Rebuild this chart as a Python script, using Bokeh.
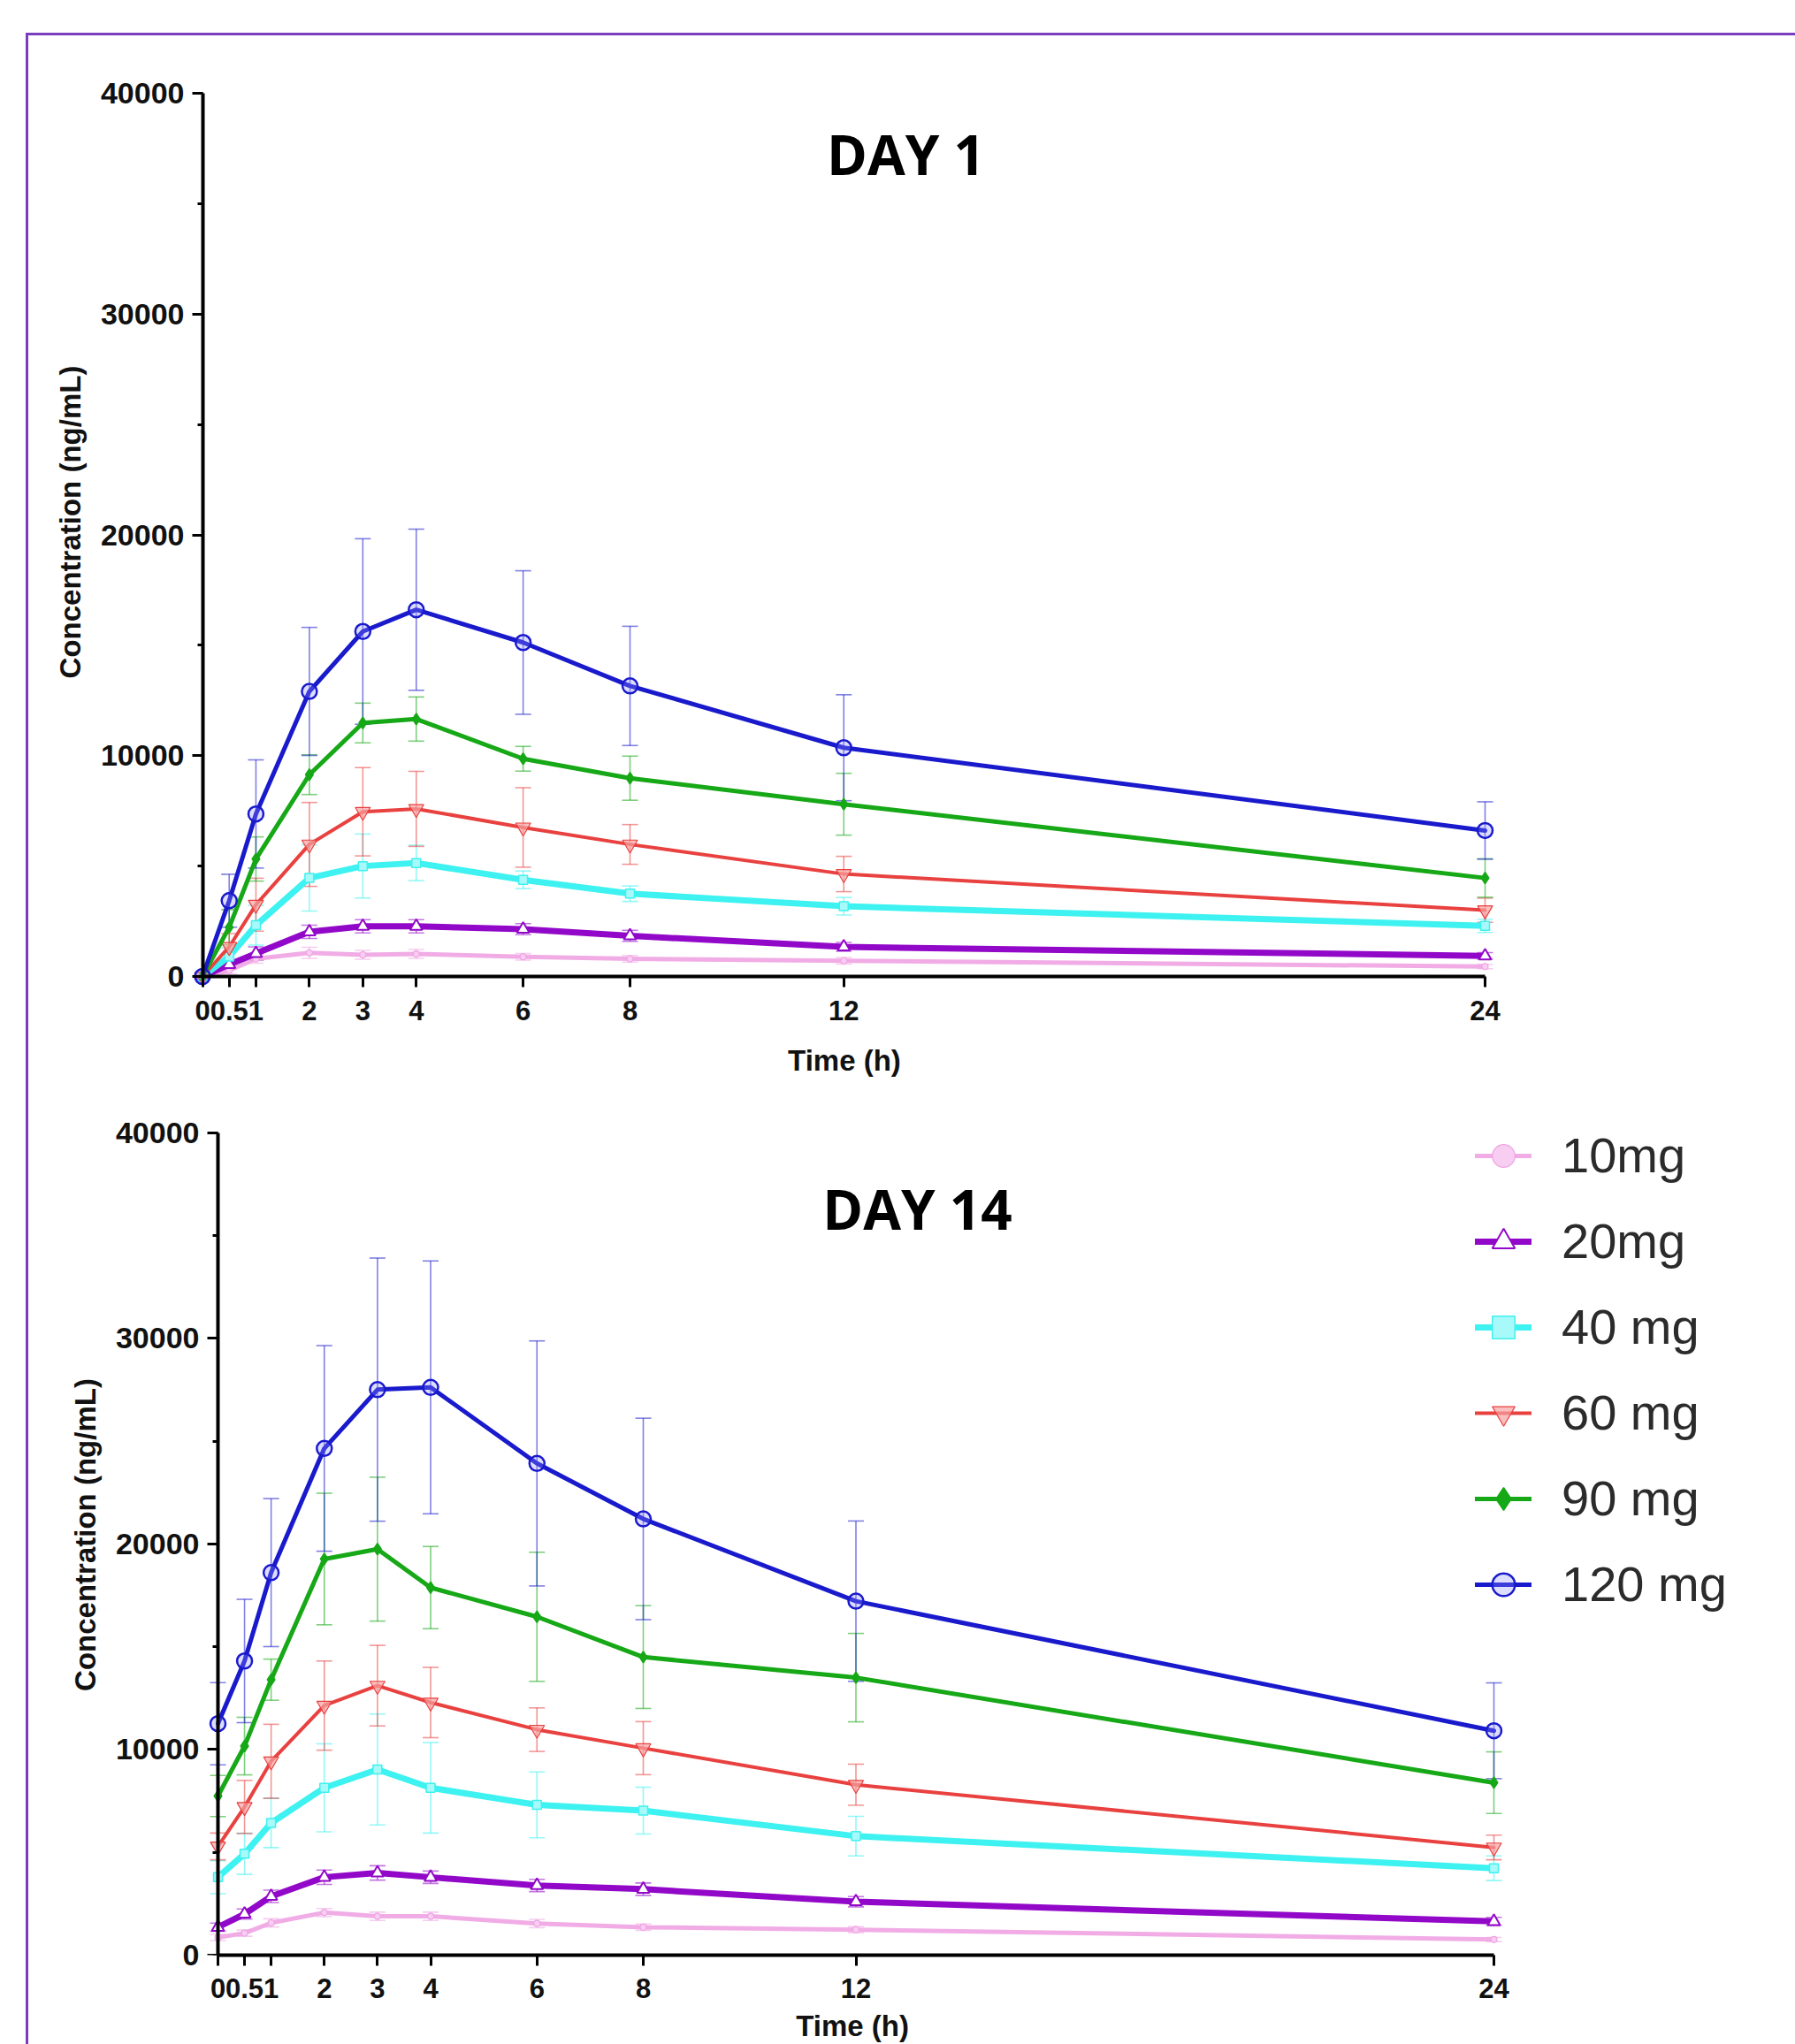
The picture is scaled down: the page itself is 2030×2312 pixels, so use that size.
from bokeh.plotting import figure
from bokeh.models import (ColumnDataSource, Whisker, TeeHead, Legend, LegendItem,
                          FixedTicker, SingleIntervalTicker, Label, LinearAxis)
from bokeh.layouts import column
from bokeh.embed import file_html
from bokeh.resources import INLINE

# ---------------- data ----------------
time_h = [0, 0.5, 1, 2, 3, 4, 6, 8, 12, 24]
x_tick_labels = ["0", "0.5", "1", "2", "3", "4", "6", "8", "12", "24"]
dose_labels = ["10mg", "20mg", "40 mg", "60 mg", "90 mg", "120 mg"]

# Day 1 mean concentration (ng/mL)
d1_10 = [0, 270, 800, 1070, 980, 1020, 890, 800, 710, 450]
d1_20 = [0, 540, 1040, 2020, 2270, 2270, 2140, 1840, 1340, 930]
d1_40 = [0, 900, 2320, 4460, 5000, 5140, 4375, 3750, 3180, 2290]
d1_60 = [0, 1340, 3250, 5980, 7460, 7590, 6750, 5980, 4640, 3000]
d1_90 = [0, 2230, 5320, 9140, 11480, 11660, 9860, 8980, 7800, 4460]
d1_120 = [0, 3430, 7360, 12910, 15625, 16610, 15125, 13160, 10360, 6610]
# Day 1 SD
d1_10_sd = [0, 150, 200, 250, 200, 200, 150, 150, 150, 100]
d1_20_sd = [0, 200, 300, 300, 300, 300, 250, 250, 200, 150]
d1_40_sd = [0, 400, 900, 1500, 1450, 800, 400, 350, 400, 300]
d1_60_sd = [0, 600, 1200, 1900, 2000, 1700, 1800, 900, 800, 550]
d1_90_sd = [0, 800, 1000, 900, 900, 1000, 560, 1000, 1400, 870]
d1_120_sd = [0, 1200, 2450, 2900, 4200, 3650, 3250, 2700, 2400, 1300]

# Day 14 mean concentration (ng/mL)
d14_10 = [860, 1070, 1570, 2070, 1890, 1890, 1540, 1360, 1240, 760]
d14_20 = [1360, 2000, 2860, 3790, 4000, 3790, 3390, 3210, 2600, 1640]
d14_40 = [3790, 4930, 6430, 8140, 9030, 8140, 7310, 7030, 5790, 4230]
d14_60 = [5290, 7210, 9430, 12140, 13110, 12290, 10970, 10070, 8290, 5240]
d14_90 = [7740, 10170, 13400, 19270, 19750, 17880, 16460, 14500, 13500, 8390]
d14_120 = [11260, 14310, 18610, 24650, 27510, 27620, 23920, 21220, 17220, 10915]
# Day 14 SD
d14_10_sd = [150, 150, 200, 200, 200, 200, 200, 150, 150, 100]
d14_20_sd = [200, 250, 300, 350, 350, 300, 300, 300, 250, 200]
d14_40_sd = [800, 1000, 1200, 2140, 2700, 2200, 1600, 1140, 960, 600]
d14_60_sd = [650, 1290, 1800, 2170, 1960, 1710, 1060, 1290, 1000, 600]
d14_90_sd = [1000, 1400, 1000, 3200, 3500, 2000, 3140, 2500, 2150, 1500]
d14_120_sd = [2000, 3000, 3600, 5000, 6400, 6150, 5960, 4900, 3900, 2330]

# ---------------- styles ----------------
styles = [
    dict(color="#EFA3E3", width=5, marker="circle", size=7, fill="#F7CDF1", falpha=1.0, mlw=1.2, lalpha=0.9),
    dict(color="#9208C8", width=7, marker="triangle", size=14, fill="#FFFFFF", falpha=1.0, mlw=2, lalpha=1.0),
    dict(color="#3DF2F0", width=7, marker="square", size=10, fill="#A8F9F9", falpha=1.0, mlw=1.5, lalpha=1.0),
    dict(color="#E8413F", width=4, marker="inverted_triangle", size=17, fill="#F7A3A3", falpha=0.7, mlw=1.2, lalpha=1.0),
    dict(color="#16A816", width=5, marker="diamond", size=13, fill="#16A816", falpha=1.0, mlw=1.5, lalpha=1.0),
    dict(color="#1A1ACD", width=5, marker="circle", size=17, fill="#8F8FFF", falpha=0.3, mlw=2.5, lalpha=1.0),
]

FONT = "Liberation Sans"
AXIS_COLOR = "black"
PAGE_X0 = 32          # page x of the figures' left edge
FIG_W = 1998
RIGHT_PANEL = 60
FRAME_LEFT = 214      # both frames share this left edge (column aligns them)
FRAME_RIGHT = PAGE_X0 + FIG_W - RIGHT_PANEL
NBSP = "\u00a0"


def style_label_axis(ax, label, standoff, label_standoff, tick_size):
    ax.axis_line_color = None
    ax.major_tick_line_color = None
    ax.minor_tick_line_color = None
    ax.major_tick_out = 0
    ax.major_tick_in = 0
    ax.minor_tick_out = 0
    ax.minor_tick_in = 0
    ax.major_label_standoff = standoff
    ax.major_label_text_font = FONT
    ax.major_label_text_font_style = "bold"
    ax.major_label_text_font_size = tick_size
    ax.major_label_text_color = "#111111"
    ax.axis_label = label
    ax.axis_label_standoff = label_standoff
    ax.axis_label_text_font = FONT
    ax.axis_label_text_font_style = "bold"
    ax.axis_label_text_font_size = "33px"
    ax.axis_label_text_color = "#111111"


def rule_axis(ticker, bounds, minor):
    # axis line and ticks only, pinned at 0 of the other dimension
    ax = LinearAxis(ticker=ticker, fixed_location=0, bounds=bounds,
                    major_label_text_font_size="1px", major_label_text_color=None,
                    major_label_standoff=0,
                    axis_line_width=4, axis_line_color=AXIS_COLOR,
                    major_tick_line_width=3, major_tick_line_color=AXIS_COLOR,
                    major_tick_in=12, major_tick_out=0,
                    minor_tick_in=6 if minor else 0, minor_tick_out=0,
                    minor_tick_line_width=3,
                    minor_tick_line_color=AXIS_COLOR if minor else None,
                    axis_label=None)
    return ax


def make_plot(means, sds, height, top_y, frame_top_px, frame_bot_px, y0_px, y40_px,
              x0_px, x24_px, ylab_standoff, title, title_cx, title_base, hybrid_x, xlabel_pad):
    frame_left_px = FRAME_LEFT
    frame_right_px = FRAME_RIGHT
    ppu = (y0_px - y40_px) / 40000.0
    y_end = (y0_px - frame_top_px) / ppu
    y_start = -(frame_bot_px - y0_px) / ppu
    k = (x24_px - x0_px) / 24.0
    x_start = -(x0_px - frame_left_px) / k
    x_end = x_start + (frame_right_px - frame_left_px) / k

    p = figure(width=FIG_W, height=height, output_backend="svg", toolbar_location=None,
               x_range=(x_start, x_end), y_range=(y_start, y_end),
               min_border_left=frame_left_px - PAGE_X0, min_border_right=RIGHT_PANEL,
               min_border_top=frame_top_px - top_y,
               min_border_bottom=top_y + height - frame_bot_px)
    p.outline_line_color = None
    p.xgrid.visible = False
    p.ygrid.visible = False
    p.background_fill_color = "white"
    p.border_fill_color = "white"

    # y axis: labels on the panel, rule + ticks fixed at x = 0
    ya = p.yaxis[0]
    ya.ticker = SingleIntervalTicker(interval=10000, num_minor_ticks=2)
    ya.bounds = (0, 40000)
    style_label_axis(ya, "Concentration (ng/mL)", ylab_standoff, 13, "34px")
    p.add_layout(rule_axis(SingleIntervalTicker(interval=10000, num_minor_ticks=2),
                           (0, 40000), True), "right")

    # x label is centred on the frame; trailing no-break spaces move it under the 0-24 h axis
    xlabel = "Time (h)" + NBSP * xlabel_pad
    xa = p.xaxis[0]
    xa.ticker = FixedTicker(ticks=time_h)
    xa.major_label_overrides = {t: lab for t, lab in zip(time_h, x_tick_labels)}
    xa.bounds = (0, 24)
    if hybrid_x:
        style_label_axis(xa, xlabel, 11, 24, "31px")
        p.add_layout(rule_axis(FixedTicker(ticks=time_h), (0, 24), False), "above")
    else:
        style_label_axis(xa, xlabel, 14, 10, "31px")
        xa.axis_line_color = AXIS_COLOR
        xa.axis_line_width = 4
        xa.major_tick_line_color = AXIS_COLOR
        xa.major_tick_line_width = 3
        xa.major_tick_out = 12

    items = []
    for mean, sd, st, lab in zip(means, sds, styles, dose_labels):
        idx = [i for i in range(len(time_h)) if sd[i] > 0]
        wsrc = ColumnDataSource(dict(
            t=[time_h[i] for i in idx],
            hi=[mean[i] + sd[i] for i in idx],
            lo=[mean[i] - sd[i] for i in idx]))
        w = Whisker(source=wsrc, base="t", upper="hi", lower="lo",
                    line_color=st["color"], line_alpha=0.55, line_width=1.6,
                    upper_head=TeeHead(size=18, line_color=st["color"], line_alpha=0.55, line_width=1.6),
                    lower_head=TeeHead(size=18, line_color=st["color"], line_alpha=0.55, line_width=1.6))
        p.add_layout(w)
        src = ColumnDataSource(dict(t=time_h, c=mean))
        lr = p.line("t", "c", source=src, line_color=st["color"], line_width=st["width"],
                    line_alpha=st["lalpha"], line_join="round", line_cap="round")
        sr = p.scatter("t", "c", source=src, marker=st["marker"], size=st["size"],
                       line_color=st["color"], line_width=st["mlw"],
                       fill_color=st["fill"], fill_alpha=st["falpha"])
        items.append(LegendItem(label=lab, renderers=[lr, sr]))

    tx = (title_cx - x0_px) / k
    ty = (y0_px - title_base) / ppu
    p.add_layout(Label(x=tx, y=ty, text=title, text_align="center", text_baseline="alphabetic",
                       text_font="Open Sans", text_font_style="bold", text_font_size="62px",
                       text_color="black"))
    return p, items


p1, _ = make_plot([d1_10, d1_20, d1_40, d1_60, d1_90, d1_120],
                  [d1_10_sd, d1_20_sd, d1_40_sd, d1_60_sd, d1_90_sd, d1_120_sd],
                  height=1200, top_y=40, frame_top_px=60, frame_bot_px=1120,
                  y0_px=1104, y40_px=105, x0_px=228.5, x24_px=1679,
                  ylab_standoff=6,
                  title="DAY 1", title_cx=1024, title_base=173, hybrid_x=True, xlabel_pad=30)

p2, items2 = make_plot([d14_10, d14_20, d14_40, d14_60, d14_90, d14_120],
                       [d14_10_sd, d14_20_sd, d14_40_sd, d14_60_sd, d14_90_sd, d14_120_sd],
                       height=1072, top_y=1240, frame_top_px=1260, frame_bot_px=2215,
                       y0_px=2215, y40_px=1281, x0_px=246, x24_px=1689,
                       ylab_standoff=-11,
                       title="DAY 14", title_cx=1037, title_base=1367, hybrid_x=False, xlabel_pad=28)

legend = Legend(items=items2, location=(1668 - FRAME_LEFT, 387), orientation="vertical",
                glyph_width=64, glyph_height=64, label_height=64, spacing=32,
                label_standoff=34, padding=0, margin=0,
                border_line_color=None, background_fill_alpha=0,
                label_text_font=FONT, label_text_font_size="56px",
                label_text_color="#2b2b2b")
p2.add_layout(legend)

layout = column(p1, p2, margin=(37, 0, 0, 29),
                styles={"border-left": "3px solid #7A3DC0", "border-top": "3px solid #7A3DC0"})

open("out.html", "w").write(file_html(layout, INLINE))
